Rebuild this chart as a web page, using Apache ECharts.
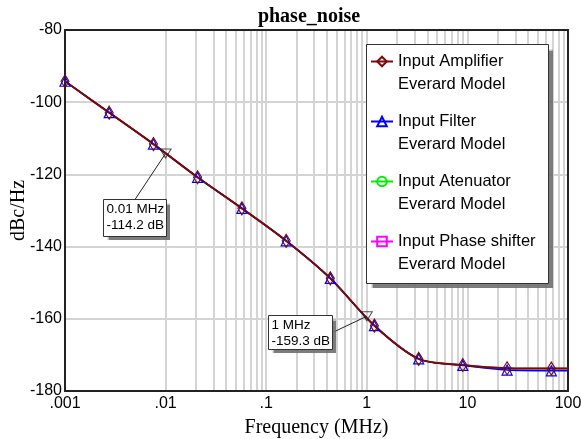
<!DOCTYPE html>
<html>
<head>
<meta charset="utf-8">
<title>phase_noise</title>
<script src="https://cdn.jsdelivr.net/npm/echarts@6/dist/echarts.min.js"></script>
<style>
html, body { margin: 0; padding: 0; background: #fff; }
#main { width: 581px; height: 439px; }
</style>
</head>
<body>
<div id="main"></div>
<script>
// frequencies (MHz), the last one is only the end of the trace (no marker)
var freq = [0.001, 0.00275, 0.00757, 0.0208, 0.0573, 0.158, 0.434, 1.19, 3.28, 9.0, 24.8, 68.3, 100];
var hasMarker = [1, 1, 1, 1, 1, 1, 1, 1, 1, 1, 1, 1, 0];

// dBc/Hz
var ampNoise     = [-94.2, -102.9, -111.6, -120.8, -129.4, -138.4, -148.8, -161.9, -171.1, -172.8, -173.7, -173.8, -173.8];
var filterNoise  = [-94.2, -102.9, -111.6, -120.8, -129.4, -138.4, -148.8, -161.9, -171.1, -172.9, -174.2, -174.4, -174.4];
var atenNoise    = [-94.2, -102.9, -111.6, -120.8, -129.4, -138.4, -148.8, -161.9, -171.1, -172.8, -173.7, -173.8, -173.8];
var shifterNoise = [-94.2, -102.9, -111.6, -120.8, -129.4, -138.4, -148.8, -161.9, -171.1, -172.8, -173.7, -173.8, -173.8];

var xTickLabels = ['.001', '.01', '.1', '1', '10', '100'];

// the two markers placed on the trace
var annFreq  = [0.01, 1];
var annValue = [-114.2, -159.3];
var annText  = ['0.01 MHz\n-114.2 dB', '1 MHz\n-159.3 dB'];

var sansFont = '"Liberation Sans", Arial, sans-serif';
var serifFont = '"Liberation Serif", "Times New Roman", serif';

// minor grid lines 2..9 of each decade
var minorGrid = [];
for (var d = -3; d < 2; d++) {
	for (var k = 2; k < 10; k++) {
		minorGrid.push({ xAxis: k * Math.pow(10, d) });
	}
}

function buildData(values, withMarkers) {
	return freq.map(function (f, i) {
		var item = { value: [f, values[i]] };
		if (!withMarkers || !hasMarker[i]) item.symbol = 'none';
		return item;
	});
}

function lineSeries(name, values, color, width, symbol, size, withMarkers) {
	return {
		name: name,
		type: 'line',
		xAxisIndex: 0,
		yAxisIndex: 0,
		smooth: 0.3,
		symbol: symbol,
		symbolSize: size,
		showAllSymbol: true,
		data: buildData(values, withMarkers),
		lineStyle: { color: color, width: width },
		itemStyle: { color: 'rgba(0,0,0,0)', borderColor: color, borderWidth: 1.2 },
		emphasis: { disabled: true }
	};
}

var chart = echarts.init(document.getElementById('main'));

var option = {
	animation: false,
	backgroundColor: '#fff',
	title: {
		text: 'phase_noise',
		left: 304,
		top: 2,
		textAlign: 'center',
		textStyle: { fontFamily: serifFont, fontWeight: 'bold', fontSize: 20, color: '#000' }
	},
	grid: { left: 65, right: 13, top: 30, bottom: 48, containLabel: false, outerBoundsMode: 'none' },
	legend: {
		data: ['Input Amplifier\nEverard Model', 'Input Filter\nEverard Model', 'Input Atenuator\nEverard Model', 'Input Phase shifter\nEverard Model'],
		orient: 'vertical',
		left: 370,
		top: 27,
		z: 10,
		itemWidth: 22,
		itemHeight: 12,
		itemGap: -9,
		padding: 0,
		// blank first line keeps the icon level with the first text line
		formatter: function (name) { return '\n' + name; },
		textStyle: { fontFamily: sansFont, fontSize: 16.5, lineHeight: 23, color: '#000' }
	},
	xAxis: [{
		type: 'log',
		logBase: 10,
		min: 0.001,
		max: 100,
		name: 'Frequency (MHz)',
		nameLocation: 'middle',
		nameGap: 27,
		nameTextStyle: { fontFamily: serifFont, fontSize: 20, color: '#000' },
		axisLine: { show: true, lineStyle: { color: '#222', width: 2 } },
		axisTick: { show: false },
		axisLabel: {
			margin: 5,
			fontFamily: sansFont, fontSize: 16, color: '#000',
			formatter: function (v) { return xTickLabels[Math.round(Math.log10(v)) + 3]; }
		},
		splitLine: { show: true, lineStyle: { color: '#d4d4d4', width: 2 } }
	}, {
		type: 'log', logBase: 10, min: 0.001, max: 100, position: 'top',
		axisLine: { show: true, lineStyle: { color: '#222', width: 2 } },
		axisTick: { show: false }, axisLabel: { show: false }, splitLine: { show: false }
	}],
	yAxis: [{
		type: 'value',
		min: -180,
		max: -80,
		interval: 20,
		name: 'dBc/Hz',
		nameLocation: 'middle',
		nameGap: 36,
		nameMoveOverlap: false,
		nameTextStyle: { fontFamily: serifFont, fontSize: 20, color: '#000' },
		axisLine: { show: true, lineStyle: { color: '#222', width: 2 } },
		axisTick: { show: false },
		axisLabel: { margin: 3, fontFamily: sansFont, fontSize: 16, color: '#000' },
		splitLine: { show: true, lineStyle: { color: '#d4d4d4', width: 2 } }
	}, {
		type: 'value', min: -180, max: -80, position: 'right',
		axisLine: { show: true, lineStyle: { color: '#222', width: 2 } },
		axisTick: { show: false }, axisLabel: { show: false }, splitLine: { show: false }
	}],
	series: [
		{
			type: 'line',
			data: [],
			z: 0,
			silent: true,
			markLine: {
				z: 0,
				silent: true,
				symbol: 'none',
				label: { show: false },
				emphasis: { disabled: true },
				lineStyle: { color: '#d4d4d4', width: 2, type: 'solid' },
				data: minorGrid
			}
		},
		lineSeries('Input Phase shifter\nEverard Model', shifterNoise, '#ff00ff', 1.5, 'rect', 7, false),
		lineSeries('Input Atenuator\nEverard Model', atenNoise, '#00ee00', 1.5, 'none', 0, false),
		lineSeries('Input Filter\nEverard Model', filterNoise, '#0000ff', 1.5, 'triangle', [10, 10], true),
		lineSeries('Input Amplifier\nEverard Model', ampNoise, '#7a0a0a', 2, 'diamond', [8, 13], true),
		{
			name: 'markers',
			type: 'scatter',
			z: 5,
			symbol: 'triangle',
			symbolRotate: 180,
			symbolSize: [11, 9],
			itemStyle: { color: 'rgba(0,0,0,0)', borderColor: '#222', borderWidth: 1 },
			data: annFreq.map(function (f, i) { return [f, annValue[i]]; })
		}
	]
};

chart.setOption(option);

// a white box casting a grey shadow, then its outline on top
function framedBox(x, y, w, h, offset, z) {
	return [{
		type: 'rect', z: z,
		shape: { x: x, y: y, width: w, height: h },
		style: { fill: '#fff', shadowColor: 'rgba(110,110,110,0.9)', shadowBlur: 1, shadowOffsetX: offset, shadowOffsetY: offset }
	}, {
		type: 'rect', z: z + 1,
		shape: { x: x, y: y, width: w, height: h },
		style: { fill: 'none', stroke: '#333', lineWidth: 1 }
	}];
}

// legend frame
var graphics = framedBox(366.5, 44.5, 182, 239, 4, 7);

// boxes with a leader line for the two markers
var annLayout = [
	{ dx: -63, dy: 46, w: 63, h: 37, from: 'top' },
	{ dx: -99, dy: -1, w: 64, h: 34, from: 'right' }
];

annFreq.forEach(function (f, i) {
	var p = chart.convertToPixel({ gridIndex: 0 }, [f, annValue[i]]);
	var L = annLayout[i];
	var bx = Math.round(p[0] + L.dx) + 0.5;
	var by = Math.round(p[1] + L.dy) + 0.5;
	var sx = L.from === 'top' ? bx + L.w / 2 : bx + L.w;
	var sy = L.from === 'top' ? by : by + L.h / 2;
	graphics.push({
		type: 'line', z: 10,
		shape: { x1: sx, y1: sy, x2: p[0], y2: p[1] },
		style: { stroke: '#222', lineWidth: 1 }
	});
	graphics = graphics.concat(framedBox(bx, by, L.w, L.h, 3, 11));
	graphics.push({
		type: 'text', z: 13,
		x: bx + 3, y: by + 2,
		style: { text: annText[i], font: '13.5px ' + sansFont, fill: '#000', lineHeight: 16 }
	});
});
chart.setOption({ graphic: graphics });
</script>
</body>
</html>
